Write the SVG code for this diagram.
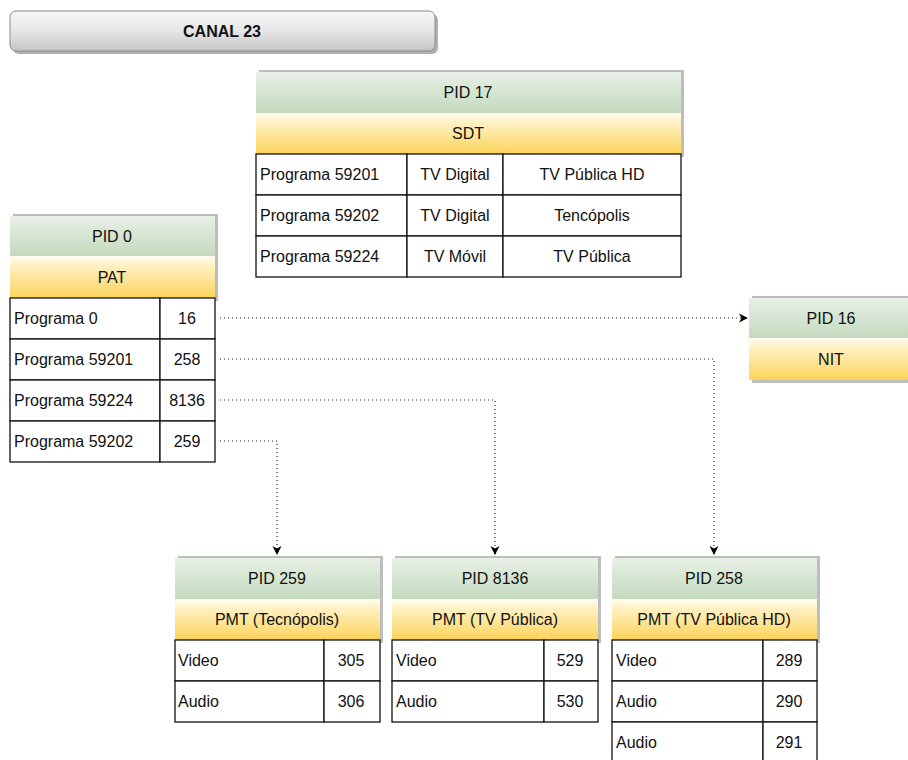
<svg xmlns="http://www.w3.org/2000/svg" width="908" height="760" viewBox="0 0 908 760">
<defs>
<linearGradient id="gGreen" x1="0" y1="0" x2="0" y2="1">
<stop offset="0" stop-color="#e8f0e6"/><stop offset="1" stop-color="#c3dabe"/>
</linearGradient>
<linearGradient id="gYellow" x1="0" y1="0" x2="0" y2="1">
<stop offset="0" stop-color="#fffcf2"/><stop offset="0.25" stop-color="#fff0c0"/><stop offset="1" stop-color="#fcd35a"/>
</linearGradient>
<linearGradient id="gGray" x1="0" y1="0" x2="0" y2="1">
<stop offset="0" stop-color="#f7f7f7"/><stop offset="0.5" stop-color="#e6e6e6"/><stop offset="1" stop-color="#c4c4c4"/>
</linearGradient>
<marker id="arr" markerUnits="userSpaceOnUse" markerWidth="11" markerHeight="10" refX="9" refY="5" orient="auto">
<path d="M0,0.5 L9,5 L0,9.5 L2.5,5 Z" fill="#000"/>
</marker>
<style>
text{font-family:"Liberation Sans",Arial,sans-serif;font-size:16px;fill:#111}
.c{text-anchor:middle}
.b{font-weight:bold}
.sh{fill:#bdbdbd}
.gr{fill:url(#gGreen)}
.ye{fill:url(#gYellow)}
.cell{fill:#fff;stroke:#111;stroke-width:1.3}
.con{fill:none;stroke:#222;stroke-width:1.2;stroke-dasharray:1 3}
</style>
</defs>
<rect width="908" height="760" fill="#fff"/>

<g id="canal23">
<rect x="13" y="14" width="425" height="40" rx="6" fill="#b0b0b0"/>
<rect x="10" y="11" width="425" height="40" rx="6" fill="url(#gGray)" stroke="#8a8a8a" stroke-width="1"/>
<text x="222" y="37" class="c b">CANAL 23</text>
</g>

<g id="sdt">
<rect x="259" y="70" width="425" height="87" class="sh"/>
<rect x="256" y="72" width="425" height="41" class="gr"/>
<rect x="256" y="113" width="425" height="41" class="ye"/>
<text x="468" y="98" class="c">PID 17</text>
<text x="468" y="139" class="c">SDT</text>
<rect x="256" y="154" width="151" height="41" class="cell"/>
<rect x="407" y="154" width="96" height="41" class="cell"/>
<rect x="503" y="154" width="178" height="41" class="cell"/>
<rect x="256" y="195" width="151" height="41" class="cell"/>
<rect x="407" y="195" width="96" height="41" class="cell"/>
<rect x="503" y="195" width="178" height="41" class="cell"/>
<rect x="256" y="236" width="151" height="41" class="cell"/>
<rect x="407" y="236" width="96" height="41" class="cell"/>
<rect x="503" y="236" width="178" height="41" class="cell"/>
<text x="260" y="180">Programa 59201</text>
<text x="455" y="180" class="c">TV Digital</text>
<text x="592" y="180" class="c">TV Pública HD</text>
<text x="260" y="221">Programa 59202</text>
<text x="455" y="221" class="c">TV Digital</text>
<text x="592" y="221" class="c">Tencópolis</text>
<text x="260" y="262">Programa 59224</text>
<text x="455" y="262" class="c">TV Móvil</text>
<text x="592" y="262" class="c">TV Pública</text>
</g>

<g id="pat">
<rect x="13" y="214" width="205" height="87" class="sh"/>
<rect x="10" y="216" width="205" height="40" class="gr"/>
<rect x="10" y="256" width="205" height="42" class="ye"/>
<text x="112" y="242" class="c">PID 0</text>
<text x="112" y="283" class="c">PAT</text>
<rect x="10" y="298" width="150" height="41" class="cell"/>
<rect x="160" y="298" width="55" height="41" class="cell"/>
<rect x="10" y="339" width="150" height="41" class="cell"/>
<rect x="160" y="339" width="55" height="41" class="cell"/>
<rect x="10" y="380" width="150" height="41" class="cell"/>
<rect x="160" y="380" width="55" height="41" class="cell"/>
<rect x="10" y="421" width="150" height="41" class="cell"/>
<rect x="160" y="421" width="55" height="41" class="cell"/>
<text x="14" y="324">Programa 0</text>
<text x="187" y="324" class="c">16</text>
<text x="14" y="365">Programa 59201</text>
<text x="187" y="365" class="c">258</text>
<text x="14" y="406">Programa 59224</text>
<text x="187" y="406" class="c">8136</text>
<text x="14" y="447">Programa 59202</text>
<text x="187" y="447" class="c">259</text>
</g>

<g id="nit">
<rect x="752" y="296" width="160" height="87" class="sh"/>
<rect x="749" y="298" width="160" height="40" class="gr"/>
<rect x="749" y="338" width="160" height="42" class="ye"/>
<text x="831" y="324" class="c">PID 16</text>
<text x="831" y="365" class="c">NIT</text>
</g>

<g id="pmt259">
<rect x="178" y="556" width="205" height="87" class="sh"/>
<rect x="175" y="558" width="205" height="41" class="gr"/>
<rect x="175" y="599" width="205" height="41" class="ye"/>
<text x="277" y="584" class="c">PID 259</text>
<text x="277" y="625" class="c">PMT (Tecnópolis)</text>
<rect x="175" y="640" width="149" height="41" class="cell"/>
<rect x="324" y="640" width="56" height="41" class="cell"/>
<rect x="175" y="681" width="149" height="41" class="cell"/>
<rect x="324" y="681" width="56" height="41" class="cell"/>
<text x="178" y="666">Video</text>
<text x="351" y="666" class="c">305</text>
<text x="178" y="707">Audio</text>
<text x="351" y="707" class="c">306</text>
</g>

<g id="pmt8136">
<rect x="395" y="556" width="206" height="87" class="sh"/>
<rect x="392" y="558" width="206" height="41" class="gr"/>
<rect x="392" y="599" width="206" height="41" class="ye"/>
<text x="495" y="584" class="c">PID 8136</text>
<text x="495" y="625" class="c">PMT (TV Pública)</text>
<rect x="392" y="640" width="152" height="41" class="cell"/>
<rect x="544" y="640" width="54" height="41" class="cell"/>
<rect x="392" y="681" width="152" height="41" class="cell"/>
<rect x="544" y="681" width="54" height="41" class="cell"/>
<text x="396" y="666">Video</text>
<text x="570" y="666" class="c">529</text>
<text x="396" y="707">Audio</text>
<text x="570" y="707" class="c">530</text>
</g>

<g id="pmt258">
<rect x="615" y="556" width="205" height="87" class="sh"/>
<rect x="612" y="558" width="205" height="41" class="gr"/>
<rect x="612" y="599" width="205" height="41" class="ye"/>
<text x="714" y="584" class="c">PID 258</text>
<text x="714" y="625" class="c">PMT (TV Pública HD)</text>
<rect x="612" y="640" width="151" height="41" class="cell"/>
<rect x="763" y="640" width="54" height="41" class="cell"/>
<rect x="612" y="681" width="151" height="41" class="cell"/>
<rect x="763" y="681" width="54" height="41" class="cell"/>
<rect x="612" y="722" width="151" height="41" class="cell"/>
<rect x="763" y="722" width="54" height="41" class="cell"/>
<text x="616" y="666">Video</text>
<text x="789" y="666" class="c">289</text>
<text x="616" y="707">Audio</text>
<text x="789" y="707" class="c">290</text>
<text x="616" y="748">Audio</text>
<text x="789" y="748" class="c">291</text>
</g>

<g id="connectors">
<path class="con" d="M220,318 H748" marker-end="url(#arr)"/>
<path class="con" d="M220,359 H714 V555" marker-end="url(#arr)"/>
<path class="con" d="M220,400 H495 V555" marker-end="url(#arr)"/>
<path class="con" d="M220,441 H277 V555" marker-end="url(#arr)"/>
</g>
</svg>
